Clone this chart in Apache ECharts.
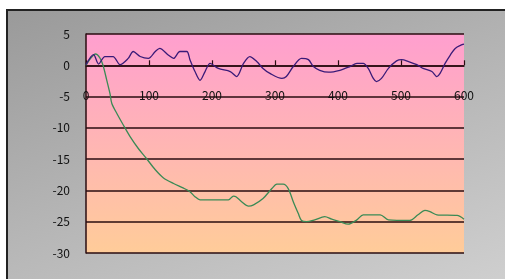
<!DOCTYPE html>
<html>
<head>
<meta charset="utf-8">
<script src="https://cdn.jsdelivr.net/npm/echarts@6/dist/echarts.min.js"></script>
<style>
  html, body { margin: 0; padding: 0; background: #fff; }
  #frame {
    position: absolute; left: 6px; top: 9px; width: 520px; height: 290px;
    border-left: 2px solid #222; border-top: 2px solid #222;
    background: linear-gradient(160deg, #9a9a9a 0%, #b4b4b4 45%, #d2d2d2 100%);
  }
  #chart { position: absolute; left: 0; top: 0; width: 505px; height: 279px; }
</style>
</head>
<body>
<div id="frame"></div>
<div id="chart"></div>
<script>
// 紫色の線（0付近で振動）
const blueX = [0, 12, 20, 30, 43, 54, 67, 75, 86, 99, 110, 117, 131, 139, 149, 160, 165, 173, 181, 189,
  197, 210, 229, 239, 250, 260, 271, 281, 292, 311, 318, 329, 342, 353, 361, 371, 385, 403, 419, 430,
  440, 448, 456, 461, 469, 480, 493, 501, 512, 525, 535, 549, 557, 562, 570, 578, 586, 597, 600];
const blueY = [0.1, 1.7, 0.2, 1.4, 1.4, 0.1, 1.1, 2.2, 1.4, 1.1, 2.2, 2.7, 1.6, 1.1, 2.2, 2.2, 0.9, -1.0, -2.4, -1.0,
  0.3, -0.5, -1.0, -1.8, 0.3, 1.4, 0.6, -0.5, -1.3, -2.1, -1.8, -0.2, 1.1, 0.9, -0.2, -0.8, -1.1, -0.8, -0.2, 0.3,
  0.3, -0.5, -2.1, -2.6, -2.1, -0.5, 0.7, 0.9, 0.6, 0.1, -0.5, -1.0, -1.8, -1.3, 0.3, 1.6, 2.7, 3.3, 3.4];

// 緑の線（減衰）
const greenX = [0, 8, 15, 22, 27, 33, 38, 41, 49, 59, 70, 83, 96, 110, 123, 139, 154, 165, 173, 181,
  197, 226, 234, 238, 247, 258, 266, 281, 295, 303, 313, 321, 329, 337, 342, 350, 363, 379, 390, 403,
  416, 430, 440, 467, 480, 514, 527, 538, 546, 557, 589, 600];
const greenY = [0, 1.2, 1.8, 1.2, 0, -2.4, -4.5, -6.1, -7.7, -9.5, -11.4, -13.3, -14.9, -16.7, -18.0, -18.9, -19.6, -20.2, -21.0, -21.5,
  -21.5, -21.5, -20.9, -21.0, -21.8, -22.5, -22.3, -21.3, -19.7, -19.0, -19.0, -19.7, -21.8, -23.7, -24.8, -25.0, -24.7, -24.2, -24.6, -25.0,
  -25.4, -24.7, -23.9, -23.9, -24.7, -24.8, -23.9, -23.2, -23.4, -23.9, -24.0, -24.6];

const yMin = -30;
const yMax = 5;
const plotH = 219;

function pairs(xs, ys) {
  return xs.map((x, i) => [x, ys[i]]);
}

var myChart = echarts.init(document.getElementById("chart"));

var labelFont = {
  color: "#111",
  fontSize: 12,
  fontFamily: "Noto Sans CJK JP",
};

// x軸を y=0 の位置へ移動（下端からのずらし量）
var zeroOffset = -plotH * (0 - yMin) / (yMax - yMin);

var option = {
  animation: false,
  grid: {
    left: 86,
    top: 34,
    width: 378,
    height: plotH,
    show: true,
    borderWidth: 0,
    backgroundColor: new echarts.graphic.LinearGradient(0, 0, 0, 1, [
      { offset: 0, color: "#ff9fcf" },
      { offset: 1, color: "#ffcc99" },
    ]),
  },
  xAxis: {
    type: "value",
    position: "bottom",
    offset: zeroOffset,
    min: 0,
    max: 600,
    interval: 100,
    axisLine: { onZero: false, lineStyle: { color: "#2a0c10", width: 1.5 } },
    axisTick: { show: true, inside: true, length: 5, lineStyle: { color: "#2a0c10", width: 1.2 } },
    axisLabel: Object.assign({ margin: 24 }, labelFont),
    splitLine: { show: false },
  },
  yAxis: {
    type: "value",
    min: yMin,
    max: yMax,
    interval: 5,
    axisLine: { show: true, lineStyle: { color: "#2a0c10", width: 1.5 } },
    axisTick: { show: false },
    axisLabel: Object.assign({ margin: 16 }, labelFont),
    splitLine: { show: true, lineStyle: { color: "#2a0c10", width: 1.5 } },
  },
  series: [
    {
      type: "line",
      data: pairs(greenX, greenY),
      symbol: "none",
      smooth: 0.3,
      lineStyle: { color: "#3a8a55", width: 1.3 },
    },
    {
      type: "line",
      data: pairs(blueX, blueY),
      symbol: "none",
      smooth: 0.3,
      lineStyle: { color: "#3a1a78", width: 1.3 },
    },
  ],
};

myChart.setOption(option);
</script>
</body>
</html>
